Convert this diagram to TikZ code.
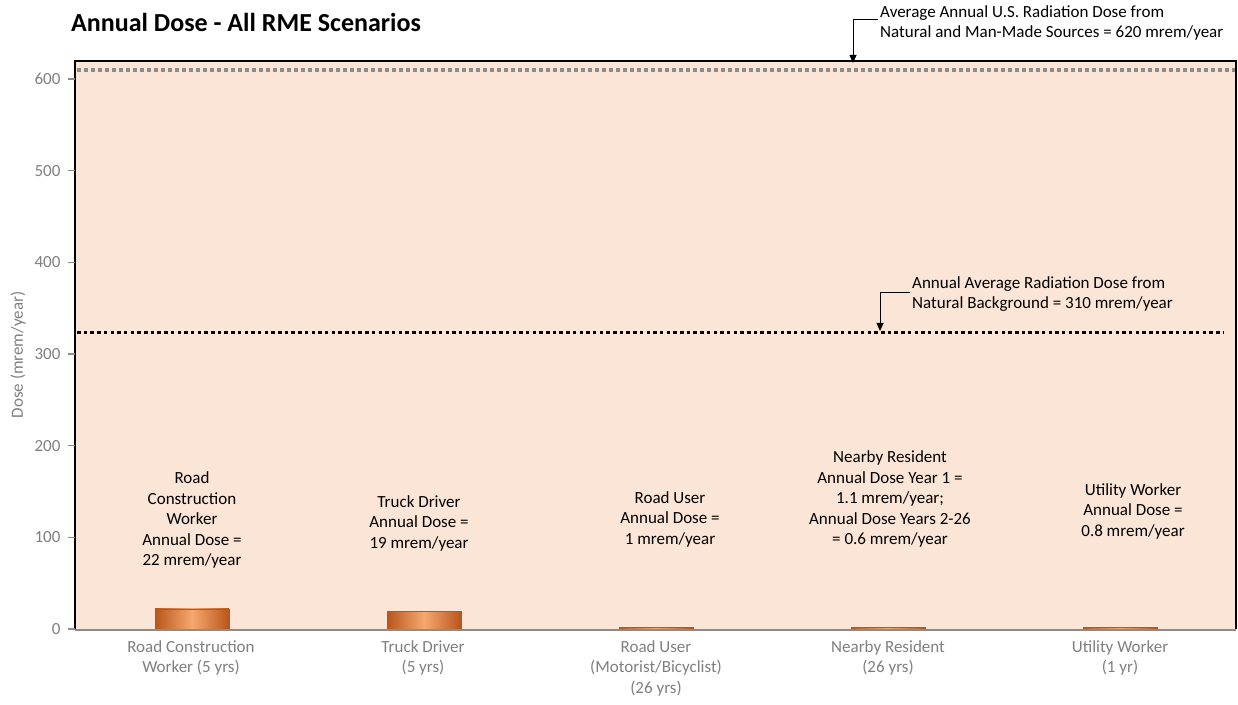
\documentclass[tikz,border=0pt]{standalone}
\usepackage{fontspec}
\setmainfont{Carlito}
\usetikzlibrary{arrows.meta}
\definecolor{plotbg}{HTML}{FBE5D6}
\definecolor{bardark}{HTML}{B8561C}
\definecolor{barlight}{HTML}{F6A86E}
\definecolor{axisgrey}{HTML}{8C8C8C}
\definecolor{labelgrey}{HTML}{7F7F7F}
\begin{document}
\begin{tikzpicture}[x=1pt,y=1pt,
  note/.style={font=\fontsize{17}{20.5}\selectfont, align=center, inner sep=2pt},
  catlabel/.style={font=\fontsize{17}{20.5}\selectfont, align=center, inner sep=2pt, text=labelgrey, anchor=north},
  bar/.style={draw=bardark, left color=bardark, right color=bardark, middle color=barlight},
  leader/.style={-{Triangle[length=8pt,width=7pt]}, line width=0.8pt}]
\useasboundingbox (0,0) rectangle (1238,704);
% plot area
\fill[plotbg] (75,75) rectangle (1236,643);
\draw[line width=2.5pt] (75,75) -- (75,643) -- (1236,643) -- (1236,75);
\foreach \t [count=\i from 0] in {0,100,...,600} {
\draw[axisgrey, line width=1.2pt] (68,{75+\i*91.67}) -- (75,{75+\i*91.67});
\node[anchor=east, text=labelgrey, font=\fontsize{17}{20}\selectfont] (tick\i) at (64,{75+\i*91.67}) {\t};
}
\node[rotate=90, text=labelgrey, font=\fontsize{17}{20}\selectfont] (ylabel) at (18,349) {Dose (mrem/year)};
\node[anchor=west, inner sep=0pt, font=\fontsize{26}{30}\selectfont\bfseries] (title) at (71,682) {Annual Dose - All RME Scenarios};
% bars
\foreach \x/\h in {192/20.2, 424/17.4, 656/2, 888/2, 1120/2}
\shade[bar] (\x-37,75) rectangle (\x+37,75+\h);
\draw[axisgrey, line width=2.5pt] (75,74) -- (1236,74);
% reference lines
\draw[axisgrey, line width=3.5pt, dash pattern=on 4pt off 3pt] (77,634) -- (1235,634);
\draw[line width=3pt, dash pattern=on 3.5pt off 3.2pt] (77,371) -- (1224,371);
% annual dose notes
\node[note] (rcw) at (192,184) {Road\\Construction\\Worker\\Annual Dose =\\22 mrem/year};
\node[note] (truck) at (419,181) {Truck Driver\\Annual Dose =\\19 mrem/year};
\node[note] (user) at (670,185) {Road User\\Annual Dose =\\1 mrem/year};
\node[note] (resident) at (890,205) {Nearby Resident\\Annual Dose Year 1 =\\1.1 mrem/year;\\Annual Dose Years 2-26\\= 0.6 mrem/year};
\node[note] (utility) at (1133,193) {Utility Worker\\Annual Dose =\\0.8 mrem/year};
% categories
\node[catlabel] (cat1) at (191,66) {Road Construction\\Worker (5 yrs)};
\node[catlabel] (cat2) at (423,66) {Truck Driver\\(5 yrs)};
\node[catlabel] (cat3) at (656,66) {Road User\\(Motorist/Bicyclist)\\(26 yrs)};
\node[catlabel] (cat4) at (888,66) {Nearby Resident\\(26 yrs)};
\node[catlabel] (cat5) at (1120,66) {Utility Worker\\(1 yr)};
% leaders
\node[note, align=left, anchor=west] (usnote) at (878,681) {Average Annual U.S. Radiation Dose from\\Natural and Man-Made Sources = 620 mrem/year};
\coordinate (ustip) at (853,641);
\draw[leader] ([yshift=4pt]usnote.west) -| (ustip);
\node[note, align=left, anchor=west] (bgnote) at (910,410) {Annual Average Radiation Dose from\\Natural Background = 310 mrem/year};
\coordinate (bgtip) at (880,373);
\draw[leader] ([yshift=2pt]bgnote.west) -| (bgtip);
\end{tikzpicture}
\end{document}
